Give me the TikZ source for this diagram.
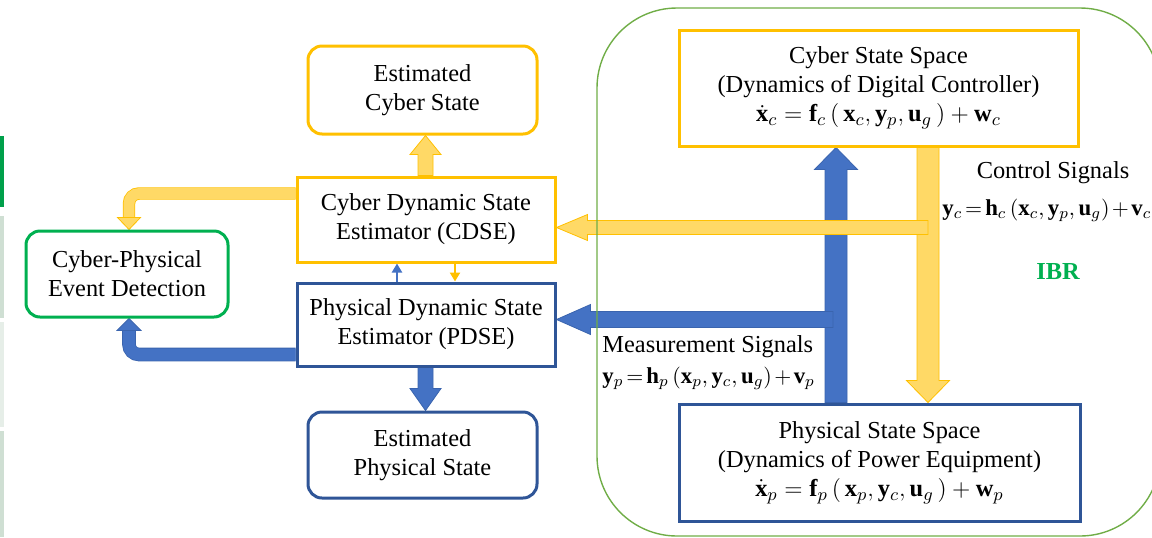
\documentclass[tikz,border=0pt]{standalone}
\usepackage{fontspec}
\setmainfont{Liberation Serif}
\usetikzlibrary{calc,arrows.meta}
\definecolor{obord}{HTML}{FFC000}
\definecolor{ofill}{HTML}{FFD966}
\definecolor{bbord}{HTML}{2F5597}
\definecolor{bfill}{HTML}{4472C4}
\definecolor{bline}{HTML}{3A64AE}
\definecolor{gboxc}{HTML}{00B050}
\definecolor{ibrline}{HTML}{70AD47}
\definecolor{barA}{HTML}{00A04B}
\definecolor{barB}{HTML}{CFDFD3}
\definecolor{barC}{HTML}{E6EEE8}
\pgfdeclarelayer{bg}
\pgfsetlayers{bg,main}
\newcommand{\tightm}{\thickmuskip=2.5mu\medmuskip=2mu}
% #1 start, #2 tip, #3 half shaft, #4 half head, #5 head length, #6 style
\newcommand{\blockarrow}[6]{%
  \coordinate (ba-h) at ($(#2)!#5!(#1)$);
  \path[#6] ($(#1)!#3!90:(#2)$) -- ($(ba-h)!#3!90:(#2)$) -- ($(ba-h)!#4!90:(#2)$)
    -- (#2) -- ($(ba-h)!#4!-90:(#2)$) -- ($(ba-h)!#3!-90:(#2)$) -- ($(#1)!#3!-90:(#2)$) -- cycle;}
\begin{document}
\begin{tikzpicture}[x=0.5pt,y=-0.5pt,
  txt/.style={font=\fontsize{12.2}{14.5}\selectfont, align=center},
  eqtxt/.style={font=\fontsize{11.4}{14}\selectfont, anchor=west, inner sep=0pt},
  box/.style={txt, draw, line width=1.5pt, fill=white, inner sep=0pt},
  obox/.style={box, draw=obord},
  bbox/.style={box, draw=bbord},
  gbox/.style={box, draw=gboxc},
  rnd/.style={rounded corners=7pt},
  oarrow/.style={fill=ofill, draw=obord, line width=0.4pt},
  barrow/.style={fill=bfill, draw=bline, line width=0.4pt},
  obend/.style={draw=obord, double=ofill, double distance=5.4pt, line width=0.4pt, rounded corners=5pt},
  bbend/.style={draw=bline, double=bfill, double distance=6pt, line width=0.4pt, rounded corners=5pt},
  othin/.style={draw=obord, line width=1.4pt, -{Triangle[width=5pt,length=4.5pt]}},
  bthin/.style={draw=bfill, line width=1.4pt, -{Triangle[width=5pt,length=4.5pt]}}]
\useasboundingbox (0,0) rectangle (1152,537);

% left edge bars
\fill[barA] (0,136) rectangle (4,207);
\fill[barB] (0,216) rectangle (4,318);
\fill[barC] (0,322) rectangle (4,427);
\fill[barB] (0,431) rectangle (4,537);

% nodes
\node[obox, rnd, minimum width=114.5pt, minimum height=44pt] (ecs) at (422.5,90) {Estimated\\Cyber State};
\node[obox, minimum width=129pt, minimum height=42.5pt] (cdse) at (426,219.5) {Cyber Dynamic State\\Estimator (CDSE)};
\node[bbox, minimum width=129pt, minimum height=41.5pt] (pdse) at (426,324.5) {Physical Dynamic State\\Estimator (PDSE)};
\node[bbox, rnd, minimum width=114.5pt, minimum height=43pt] (eps) at (422.5,455) {Estimated\\Physical State};
\node[gbox, rnd, minimum width=101pt, minimum height=43pt] (ced) at (127,274) {Cyber-Physical\\Event Detection};
\node[obox, minimum width=199.5pt, minimum height=58pt] (css) at (878.5,88)
  {Cyber State Space\\(Dynamics of Digital Controller)\\
   $\dot{\mathbf{x}}_c=\mathbf{f}_c\left(\,\mathbf{x}_c,\mathbf{y}_p,\mathbf{u}_g\,\right)+\mathbf{w}_c$};
\node[bbox, minimum width=200.5pt, minimum height=58.5pt] (pss) at (879.5,462.5)
  {Physical State Space\\(Dynamics of Power Equipment)\\
   $\dot{\mathbf{x}}_p=\mathbf{f}_p\left(\,\mathbf{x}_p,\mathbf{y}_c,\mathbf{u}_g\,\right)+\mathbf{w}_p$};

% labels
\node[txt] (ctl) at (1053,173) {Control Signals};
\node[eqtxt] (yc) at (942,210)
  {$\tightm\mathbf{y}_c=\mathbf{h}_c\left(\mathbf{x}_c,\mathbf{y}_p,\mathbf{u}_g\right)+\mathbf{v}_c$};
\node[txt, font=\fontsize{12.2}{14.5}\selectfont\bfseries, text=gboxc] (ibr) at (1058,272) {IBR};
\node[txt, anchor=west, inner sep=0pt] (meas) at (602,347) {Measurement Signals};
\node[eqtxt] (yp) at (602,378)
  {$\tightm\mathbf{y}_p=\mathbf{h}_p\left(\mathbf{x}_p,\mathbf{y}_c,\mathbf{u}_g\right)+\mathbf{v}_p$};

% connector end points
\coordinate (a1s) at ($(cdse.north)+(-0.5,0)$);
\coordinate (a1e) at (a1s |- ecs.south);
\coordinate (a2s) at ($(pdse.south)+(-0.5,0)$);
\coordinate (a2e) at (a2s |- eps.north);
\coordinate (a5s) at ($(pss.north)+(-43.5,0)$);
\coordinate (a5e) at (a5s |- css.south);
\coordinate (a6s) at ($(css.south)+(49.5,0)$);
\coordinate (a6e) at (a6s |- pss.north);
\coordinate (a3s) at ($(a6s)+(0,80)$);
\coordinate (a3e) at (cdse.east |- a3s);
\coordinate (a4s) at ($(a5s)+(-3,-83)$);
\coordinate (a4e) at (pdse.east |- a4s);
\coordinate (o1) at ($(cdse.north west)+(0,18)$);
\coordinate (o2) at ($(ced.north)+(2,-12)$);
\coordinate (o3) at ($(ced.north)+(2,0)$);
\coordinate (b1) at ($(pdse.south west)+(0,-13)$);
\coordinate (b2) at ($(ced.south)+(2,12)$);
\coordinate (b3) at ($(ced.south)+(2,0)$);

\begin{pgfonlayer}{bg}
  \blockarrow{a1s}{a1e}{3.75pt}{7.75pt}{9.5pt}{oarrow}
  \blockarrow{a2s}{a2e}{3.75pt}{7.75pt}{11pt}{barrow}
  \blockarrow{a6s}{a6e}{5.5pt}{10.75pt}{11pt}{oarrow}
  \blockarrow{a5s}{a5e}{5.5pt}{10.75pt}{11pt}{barrow}
  \blockarrow{a3s}{a3e}{3.5pt}{6.5pt}{15.5pt}{oarrow}
  \blockarrow{a4s}{a4e}{4pt}{7.5pt}{17pt}{barrow}
  \draw[obend] (o1) -| (o2);
  \path[oarrow] ($(o2)+(-11.5,0)$) -- ($(o2)+(11.5,0)$) -- (o3) -- cycle;
  \draw[bbend] (b1) -| (b2);
  \path[barrow] ($(b2)+(-12,0)$) -- ($(b2)+(12,0)$) -- (b3) -- cycle;
  \draw[bthin] ($(pdse.north)+(-29,0)$) -- ($(cdse.south)+(-29,0)$);
  \draw[othin] ($(cdse.south)+(29,0)$) -- ($(pdse.north)+(29,0)$);
\end{pgfonlayer}

% IBR container
\draw[ibrline, line width=0.7pt, rounded corners=40pt] (597,8) rectangle (1160,536);
\end{tikzpicture}
\end{document}
